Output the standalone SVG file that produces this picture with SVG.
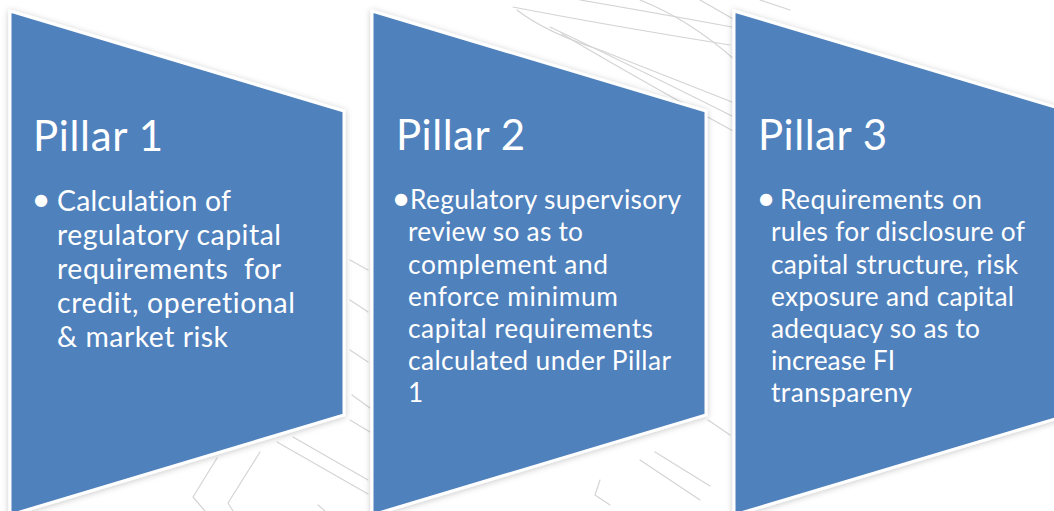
<svg xmlns="http://www.w3.org/2000/svg" width="1054" height="511" viewBox="0 0 1054 511">
  <defs>
    <filter id="soft-shadow" x="-10%" y="-10%" width="120%" height="120%">
      <feDropShadow dx="0" dy="1" stdDeviation="3" flood-color="#000000" flood-opacity="0.22"/>
    </filter>
    <style>
      .pillar { fill: #4f81bd; stroke: #ffffff; stroke-width: 3; stroke-linejoin: miter; filter: url(#soft-shadow); }
      text { font-family: Lato, "Open Sans", "Liberation Sans", sans-serif; fill: #ffffff; font-variant-ligatures: none; }
      .title { font-size: 42px; }
      .body1 { font-size: 28.4px; }
      .body { font-size: 26.3px; }
      .bullet { font-size: 33px; text-anchor: middle; }
      .sketch { fill: none; stroke: #d4d4d4; stroke-width: 1.2; stroke-linecap: round; stroke-linejoin: round; }
    </style>
  </defs>

  <rect x="0" y="0" width="1054" height="511" fill="#ffffff"/>

  <!-- faint pencil sketch in the background -->
  <g id="background-sketch" class="sketch">
    <!-- upper strokes between the second and third pillar -->
    <path d="M513,7 Q600,24 730,45"/>
    <path d="M580,0 Q650,12 732,27"/>
    <path d="M517,10 Q545,32 600,50 L732,102"/>
    <path d="M550,27 Q620,60 732,116"/>
    <path d="M562,34 Q640,80 735,132"/>
    <path d="M640,0 Q690,20 735,60"/>
    <path d="M700,0 L735,20"/>
    <path d="M760,0 L790,10"/>
    <!-- strokes in the gap between the first and second pillar -->
    <path d="M350,260 L368,270"/>
    <path d="M350,300 L368,312"/>
    <path d="M350,350 L368,362"/>
    <path d="M352,395 L370,408"/>
    <path d="M350,420 L370,432"/>
    <!-- lower strokes under the first pillar -->
    <path d="M217,458 L193,497 L205,511"/>
    <path d="M260,452 L228,503 L233,511"/>
    <path d="M277,442 L368,494"/>
    <path d="M293,437 L368,480"/>
    <path d="M318,505 L325,511"/>
    <!-- lower strokes under the second pillar -->
    <path d="M600,480 L595,495 L610,505"/>
    <path d="M640,460 L700,500"/>
    <path d="M655,452 L710,486"/>
    <path d="M708,420 L730,435"/>
  </g>

  <!-- pillar shapes -->
  <g id="pillar-1">
    <path class="pillar" d="M10,11 L344,111 L344,415 L10,515 Z"/>
    <text class="title" x="33" y="151" textLength="130">Pillar 1</text>
    <text class="bullet" x="41" y="211">•</text>
    <text class="body1" x="57" y="211" textLength="174">Calculation of</text>
    <text class="body1" x="57" y="245" textLength="224">regulatory capital</text>
    <text class="body1" x="57" y="279" textLength="224" xml:space="preserve">requirements  for</text>
    <text class="body1" x="57" y="313" textLength="238">credit, operetional</text>
    <text class="body1" x="57" y="347" textLength="171">&amp; market risk</text>
  </g>

  <g id="pillar-2">
    <path class="pillar" d="M372,11 L706,111 L706,415 L372,515 Z"/>
    <text class="title" x="396" y="150" textLength="129">Pillar 2</text>
    <text class="bullet" x="401" y="210">•</text>
    <text class="body" x="410" y="209" textLength="271">Regulatory supervisory</text>
    <text class="body" x="408" y="241" textLength="175">review so as to</text>
    <text class="body" x="408" y="273.5" textLength="200">complement and</text>
    <text class="body" x="408" y="305.7" textLength="210">enforce minimum</text>
    <text class="body" x="408" y="338" textLength="245">capital requirements</text>
    <text class="body" x="408" y="370" textLength="263">calculated under Pillar</text>
    <text class="body" x="408" y="402">1</text>
  </g>

  <g id="pillar-3">
    <path class="pillar" d="M734,11 L1068,111 L1068,415 L734,515 Z"/>
    <text class="title" x="758" y="150" textLength="129">Pillar 3</text>
    <text class="bullet" x="766" y="210">•</text>
    <text class="body" x="780" y="209" textLength="202">Requirements on</text>
    <text class="body" x="771" y="241" textLength="254">rules for disclosure of</text>
    <text class="body" x="771" y="273.5" textLength="247">capital structure, risk</text>
    <text class="body" x="771" y="305.7" textLength="243">exposure and capital</text>
    <text class="body" x="771" y="338" textLength="209">adequacy so as to</text>
    <text class="body" x="771" y="370" textLength="124">increase FI</text>
    <text class="body" x="771" y="402" textLength="141">transpareny</text>
  </g>

  <!-- no connectors: the pillars simply sit side by side -->
  <g id="connectors"/>
</svg>
